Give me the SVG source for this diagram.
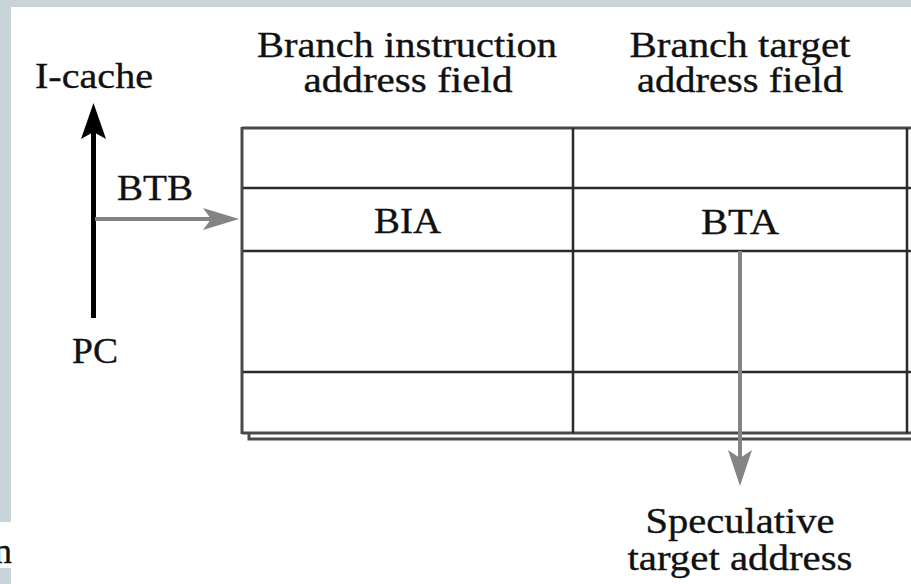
<svg xmlns="http://www.w3.org/2000/svg" width="911" height="584" viewBox="0 0 911 584">
  <style>
    .lbl { font-family: "Liberation Serif", "Times New Roman", serif; font-size: 36px; fill: #111; stroke: #111; stroke-width: 0.35; }
    .mid { text-anchor: middle; }
    .grid { stroke: #2a2a2a; stroke-width: 2.5; fill: none; }
    .edge { stroke: #4a4a4a; stroke-width: 3; fill: none; }
    .gray { stroke: #848484; stroke-width: 4; fill: none; }
    .blk { stroke: #000; stroke-width: 5; fill: none; }
  </style>

  <!-- page frame -->
  <rect x="0" y="0" width="911" height="584" fill="#c8d3da"/>
  <rect x="11" y="7" width="900" height="577" fill="#ffffff"/>
  <rect x="0" y="522" width="11" height="46" fill="#ffffff"/>
  <text class="lbl" x="12" y="563" text-anchor="end">n</text>

  <!-- column headings -->
  <g id="head-bia">
    <text class="lbl mid" x="407" y="57" textLength="300" lengthAdjust="spacingAndGlyphs">Branch instruction</text>
    <text class="lbl mid" x="408" y="92" textLength="209" lengthAdjust="spacingAndGlyphs">address field</text>
  </g>
  <g id="head-bta">
    <text class="lbl mid" x="740" y="57" textLength="221" lengthAdjust="spacingAndGlyphs">Branch target</text>
    <text class="lbl mid" x="740" y="92" textLength="206" lengthAdjust="spacingAndGlyphs">address field</text>
  </g>

  <!-- branch target buffer table -->
  <g id="btb-table">
    <rect x="242" y="128" width="680" height="305" fill="#ffffff"/>
    <!-- drop shadow along the bottom edge -->
    <path class="edge" d="M249 433 V439 H911"/>
    <line class="edge" x1="242" y1="128" x2="911" y2="128"/>
    <line class="grid" x1="242" y1="188" x2="911" y2="188"/>
    <line class="grid" x1="242" y1="251" x2="911" y2="251"/>
    <line class="grid" x1="242" y1="372" x2="911" y2="372"/>
    <line class="edge" x1="242" y1="433" x2="911" y2="433"/>
    <line class="edge" x1="242" y1="127" x2="242" y2="434"/>
    <line class="grid" x1="573" y1="128" x2="573" y2="433"/>
    <line class="grid" x1="907" y1="128" x2="907" y2="433"/>
    <text class="lbl mid" x="407.5" y="233" textLength="67" lengthAdjust="spacingAndGlyphs">BIA</text>
    <text class="lbl mid" x="740" y="234" textLength="78" lengthAdjust="spacingAndGlyphs">BTA</text>
  </g>

  <!-- side labels -->
  <g id="icache">
    <text class="lbl" x="35" y="88" textLength="118" lengthAdjust="spacingAndGlyphs">I-cache</text>
  </g>
  <g id="pc">
    <text class="lbl" x="72" y="363" textLength="46" lengthAdjust="spacingAndGlyphs">PC</text>
  </g>
  <g id="btb-label">
    <text class="lbl" x="117" y="200" textLength="76" lengthAdjust="spacingAndGlyphs">BTB</text>
  </g>
  <g id="spec-target">
    <text class="lbl mid" x="740" y="533" textLength="189" lengthAdjust="spacingAndGlyphs">Speculative</text>
    <text class="lbl mid" x="740" y="570" textLength="225" lengthAdjust="spacingAndGlyphs">target address</text>
  </g>

  <!-- connectors -->
  <g id="connectors">
    <!-- PC up to I-cache -->
    <line class="blk" x1="93.5" y1="318" x2="93.5" y2="130"/>
    <path d="M93.5 103 L106 139 L93.5 132 L81 139 Z" fill="#000"/>
    <!-- PC into the BTB -->
    <line class="gray" x1="95" y1="219" x2="214" y2="219"/>
    <path d="M239 219 L203 230 L211 219 L203 208 Z" fill="#848484"/>
    <!-- BTA out as speculative target -->
    <line class="gray" x1="740" y1="251" x2="740" y2="462"/>
    <path d="M740 486 L728 450 L740 458 L752 450 Z" fill="#848484"/>
  </g>
</svg>
